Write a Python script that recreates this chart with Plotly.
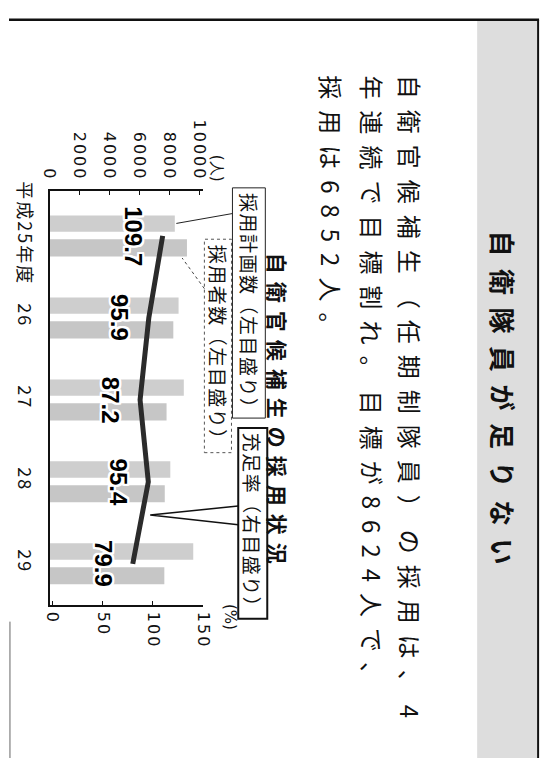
import plotly.graph_objects as go

# ---- data ----
years = ["平成25年度", "26", "27", "28", "29"]
plan = [8350, 8600, 8950, 8050, 9580]       # 採用計画数（左目盛り）
hires = [9160, 8250, 7800, 7680, 7650]      # 採用者数（左目盛り）
rate = [109.7, 95.9, 87.2, 95.4, 79.9]      # 充足率（右目盛り）
left_ticks = [0, 2000, 4000, 6000, 8000, 10000]
right_ticks = [0, 50, 100, 150]

headline = "自衛隊員が足りない"
body_lines = ["自衛官候補生（任期制隊員）の採用は、4",
              "年連続で目標割れ。目標が8624人で、",
              "採用は6852人。"]
chart_title = "自衛官候補生の採用状況"
legend_plan = "採用計画数（左目盛り）"
legend_hires = "採用者数（左目盛り）"
legend_rate = "充足率（右目盛り）"
unit_left = "(人)"
unit_right = "(%)"

W, H = 550, 758
JP = "Noto Sans CJK JP"


def px(x):
    return x / W


def py(y):
    return 1 - y / H


def spaced(t, s):
    return f'<span style="letter-spacing:{s}px">{t}</span>'


fig = go.Figure()

fig.add_trace(go.Bar(orientation="h", y=years, x=plan, width=0.2, offset=-0.25,
                     marker=dict(color="#cecece", line=dict(width=0)),
                     xaxis="x", yaxis="y", name=legend_plan, showlegend=False))
fig.add_trace(go.Bar(orientation="h", y=years, x=hires, width=0.21, offset=0.04,
                     marker=dict(color="#c6c6c6", line=dict(width=0)),
                     xaxis="x", yaxis="y", name=legend_hires, showlegend=False))
fig.add_trace(go.Scatter(x=rate, y=years, xaxis="x2", yaxis="y", mode="lines",
                         line=dict(color="#2b2b2b", width=5), name=legend_rate,
                         showlegend=False))

halo = ", ".join(f"{dx}px {dy}px 0 #fff" for dx in (-2, -1, 0, 1, 2) for dy in (-2, -1, 0, 1, 2))
annotations = []
for i, rv in enumerate(rate):
    annotations.append(dict(x=rv, y=i, xref="x2", yref="y", text=f"{rv:.1f}",
                            showarrow=False, textangle=90, xshift=-30,
                            font=dict(family="Liberation Sans", size=24, weight="bold",
                                      color="#000", shadow=halo)))

# headline and body text
annotations.append(dict(x=px(511), y=py(222), xref="paper", yref="paper",
                        text=spaced(headline, 12.5), showarrow=False, textangle=90,
                        xanchor="center", yanchor="top",
                        font=dict(family=JP, size=26, weight="bold", color="#111")))
for xc, line in zip([415, 376, 334], body_lines):
    annotations.append(dict(x=px(xc), y=py(65), xref="paper", yref="paper",
                            text=spaced(line, 11), showarrow=False, textangle=90,
                            xanchor="center", yanchor="top",
                            font=dict(family=JP, size=24, color="#111")))
annotations.append(dict(x=px(279), y=py(245), xref="paper", yref="paper",
                        text=spaced(chart_title, 8), showarrow=False, textangle=90,
                        xanchor="center", yanchor="top",
                        font=dict(family=JP, size=21, weight="bold", color="#111")))
for xc, yt, t in [(248, 184, legend_plan), (216, 237, legend_hires), (252, 427, legend_rate)]:
    annotations.append(dict(x=px(xc), y=py(yt), xref="paper", yref="paper",
                            text=spaced(t, 1.5), showarrow=False, textangle=90,
                            xanchor="center", yanchor="top",
                            font=dict(family=JP, size=19, color="#111")))
annotations.append(dict(x=px(215), y=py(146), xref="paper", yref="paper", text=unit_left,
                        showarrow=False, textangle=90,
                        font=dict(family="DejaVu Sans", size=15, color="#111")))
annotations.append(dict(x=px(229), y=py(630), xref="paper", yref="paper", text=unit_right,
                        showarrow=False, textangle=90,
                        font=dict(family="DejaVu Sans", size=15, color="#111")))

shapes = []
# grey band behind headline
shapes.append(dict(type="rect", xref="paper", yref="paper", x0=px(484), x1=px(546),
                   y0=py(758), y1=py(12), fillcolor="#dddddd", line=dict(width=0), layer="below"))
# frame lines
shapes.append(dict(type="line", xref="paper", yref="paper", x0=0, x1=px(548), y0=py(11), y1=py(11),
                   line=dict(color="#111", width=2.5)))
shapes.append(dict(type="line", xref="paper", yref="paper", x0=px(547), x1=px(547), y0=py(11), y1=0,
                   line=dict(color="#111", width=2)))
shapes.append(dict(type="line", xref="paper", yref="paper", x0=px(1), x1=px(1), y0=py(620), y1=0,
                   line=dict(color="#666", width=1)))
# legend boxes
shapes.append(dict(type="rect", xref="paper", yref="paper", x0=px(231), x1=px(265),
                   y0=py(414), y1=py(181), line=dict(color="#222", width=1)))
shapes.append(dict(type="rect", xref="paper", yref="paper", x0=px(202), x1=px(230),
                   y0=py(449), y1=py(233), line=dict(color="#555", width=1, dash="dot")))
shapes.append(dict(type="rect", xref="paper", yref="paper", x0=px(237), x1=px(267),
                   y0=py(617), y1=py(424), line=dict(color="#111", width=2)))
# callout lines
shapes.append(dict(type="line", xref="paper", yref="paper", x0=px(231), y0=py(207),
                   x1=px(173), y1=py(217), line=dict(color="#222", width=1)))
shapes.append(dict(type="line", xref="paper", yref="paper", x0=px(202), y0=py(283),
                   x1=px(179), y1=py(252), line=dict(color="#444", width=1, dash="dot")))
shapes.append(dict(type="path", xref="paper", yref="paper",
                   path=f"M {px(237)},{py(503)} L {px(146)},{py(512)} L {px(237)},{py(522)}",
                   line=dict(color="#111", width=1.5)))

fig.update_layout(
    width=W, height=H, autosize=False,
    margin=dict(l=0, r=0, t=0, b=0),
    paper_bgcolor="white", plot_bgcolor="white",
    barmode="overlay",
    xaxis=dict(domain=[px(42), px(201)], range=[0, 10258], side="top", anchor="y",
               tickvals=left_ticks, ticktext=[spaced(v, 2) for v in left_ticks], tickangle=90,
               showline=True, linecolor="#111", linewidth=1.5, ticks="inside", ticklen=4,
               tickcolor="#111", showgrid=False, zeroline=False,
               tickfont=dict(family="DejaVu Sans", size=16, color="#111"),
               ticklabelstandoff=3),
    xaxis2=dict(overlaying="x", side="bottom", anchor="y", range=[-2.9, 150.3],
                tickvals=right_ticks, ticktext=[spaced(v, 2) for v in right_ticks], tickangle=90,
                showline=True, linecolor="#111", linewidth=1.5, ticks="inside", ticklen=4,
                tickcolor="#111", showgrid=False, zeroline=False,
                tickfont=dict(family="DejaVu Sans", size=16, color="#111"),
                ticklabelstandoff=2),
    yaxis=dict(domain=[py(603), py(184)], range=[4.5, -0.55], type="category",
               tickvals=years, ticktext=[spaced(y, 2) for y in years],
               showline=True, linecolor="#111", linewidth=2, ticks="", tickangle=90,
               showgrid=False, zeroline=False,
               tickfont=dict(family=JP, size=18, color="#111"), ticklabelstandoff=8),
    annotations=annotations,
    shapes=shapes,
)

fig.write_html("out.html", config={"displayModeBar": False},
               post_script="document.body.style.margin='0';document.body.style.overflow='hidden';")
